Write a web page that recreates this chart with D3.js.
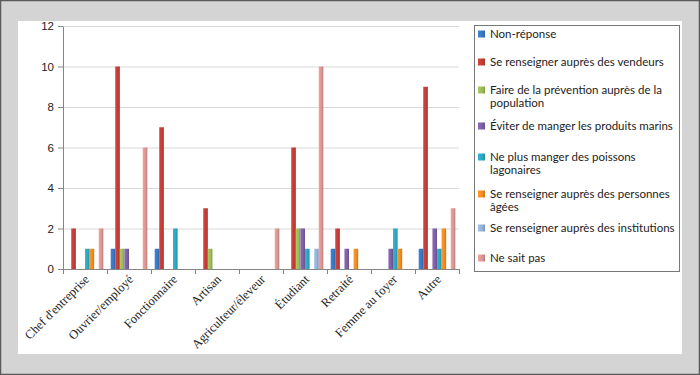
<!DOCTYPE html>
<html>
<head>
<meta charset="utf-8">
<script src="https://cdn.jsdelivr.net/npm/d3@7"></script>
<style>
  body { margin: 0; background: #fff; }
  svg { display: block; }
</style>
</head>
<body>
<script>
const categories = ["Chef d'entreprise", "Ouvrier/employé", "Fonctionnaire", "Artisan",
  "Agriculteur/éleveur", "Étudiant", "Retraité", "Femme au foyer", "Autre"];

const seriesNames = [
  "Non-réponse",
  "Se renseigner auprès des vendeurs",
  "Faire de la prévention auprès de la population",
  "Éviter de manger les produits marins",
  "Ne plus manger des poissons lagonaires",
  "Se renseigner auprès des personnes âgées",
  "Se renseigner auprès des institutions",
  "Ne sait pas"
];

// legend lines as wrapped in the original
const legendLines = [
  ["Non-réponse"],
  ["Se renseigner auprès des vendeurs"],
  ["Faire de la prévention auprès de la", "population"],
  ["Éviter de manger les produits marins"],
  ["Ne plus manger des poissons", "lagonaires"],
  ["Se renseigner auprès des personnes", "âgées"],
  ["Se renseigner auprès des institutions"],
  ["Ne sait pas"]
];

const seriesColors = ["#3b78c2", "#c43d36", "#9bbb59", "#7d60a6", "#2ba8c2", "#f38b22", "#93b1d8", "#dc9592"];

// values per series, in category order
const nonReponse   = [0, 1, 1, 0, 0, 0, 1, 0, 1];
const vendeurs     = [2, 10, 7, 3, 0, 6, 2, 0, 9];
const prevention   = [0, 1, 0, 1, 0, 2, 0, 0, 0];
const eviter       = [0, 1, 0, 0, 0, 2, 1, 1, 2];
const nePlus       = [1, 0, 2, 0, 0, 1, 0, 2, 1];
const agees        = [1, 0, 0, 0, 0, 0, 1, 1, 2];
const institutions = [0, 0, 0, 0, 0, 1, 0, 0, 0];
const neSaitPas    = [2, 6, 0, 0, 2, 10, 0, 0, 3];

const seriesValues = [nonReponse, vendeurs, prevention, eviter, nePlus, agees, institutions, neSaitPas];

const yTicks = [0, 2, 4, 6, 8, 10, 12];

const W = 700, H = 375;
const plot = { left: 63, right: 459, top: 26, bottom: 269 };

const svg = d3.select("body").append("svg")
  .attr("width", W)
  .attr("height", H);

// frame
svg.append("rect")
  .attr("x", 0.5).attr("y", 0.5)
  .attr("width", W - 1).attr("height", H - 1)
  .attr("fill", "#d4d4d4")
  .attr("stroke", "#5a5a5a")
  .attr("stroke-width", 1.5);

svg.append("rect")
  .attr("x", 18).attr("y", 21)
  .attr("width", 664).attr("height", 333)
  .attr("fill", "#fff");

// gradients for bars
const defs = svg.append("defs");
seriesColors.forEach((c, i) => {
  const g = defs.append("linearGradient")
    .attr("id", "grad" + i)
    .attr("x1", "0").attr("x2", "1").attr("y1", "0").attr("y2", "0");
  g.append("stop").attr("offset", "0%").attr("stop-color", d3.color(c).brighter(0.25));
  g.append("stop").attr("offset", "60%").attr("stop-color", c);
  g.append("stop").attr("offset", "100%").attr("stop-color", d3.color(c).darker(0.5));
});

const x0 = d3.scaleBand()
  .domain(categories)
  .range([plot.left, plot.right])
  .padding(0);

const x1 = d3.scaleBand()
  .domain(d3.range(seriesNames.length))
  .range([0, x0.bandwidth()])
  .paddingInner(0)
  .paddingOuter(0.8);

const y = d3.scaleLinear()
  .domain([0, 12])
  .range([plot.bottom, plot.top]);

// grid
svg.append("g")
  .selectAll("line")
  .data(yTicks.filter(d => d > 0))
  .join("line")
  .attr("x1", plot.left).attr("x2", plot.right)
  .attr("y1", d => y(d) + 0.5).attr("y2", d => y(d) + 0.5)
  .attr("stroke", "#d9d9d9")
  .attr("stroke-width", 1.2);

// bars
const rows = [];
categories.forEach((c, ci) => {
  seriesValues.forEach((vals, si) => {
    if (vals[ci] > 0) rows.push({ cat: c, s: si, v: vals[ci] });
  });
});

svg.append("g")
  .selectAll("rect")
  .data(rows)
  .join("rect")
  .attr("x", d => x0(d.cat) + x1(d.s))
  .attr("y", d => y(d.v))
  .attr("width", x1.bandwidth())
  .attr("height", d => y(0) - y(d.v))
  .attr("fill", d => `url(#grad${d.s})`);

// y axis
const yAxis = svg.append("g")
  .attr("transform", `translate(${plot.left},0)`)
  .call(d3.axisLeft(y).tickValues(yTicks).tickSize(5).tickPadding(4).tickSizeOuter(0));
yAxis.select(".domain").attr("stroke", "#868686");
yAxis.selectAll(".tick line").attr("stroke", "#868686");
yAxis.selectAll("text")
  .attr("font-family", "Liberation Sans, Arial, sans-serif")
  .attr("font-size", "11.5px")
  .attr("fill", "#222");

// x axis
const xAxis = svg.append("g")
  .attr("transform", `translate(0,${plot.bottom})`);
xAxis.append("line")
  .attr("x1", plot.left).attr("x2", plot.right)
  .attr("y1", 0.5).attr("y2", 0.5)
  .attr("stroke", "#868686");
xAxis.selectAll(".tk")
  .data(d3.range(categories.length + 1))
  .join("line")
  .attr("class", "tk")
  .attr("x1", i => plot.left + i * x0.step() + 0.5)
  .attr("x2", i => plot.left + i * x0.step() + 0.5)
  .attr("y1", 0).attr("y2", 5)
  .attr("stroke", "#868686");

xAxis.selectAll(".lbl")
  .data(categories)
  .join("text")
  .attr("class", "lbl")
  .attr("transform", d => `translate(${x0(d) + x0.bandwidth() / 2 + 5},${11}) rotate(-45)`)
  .attr("text-anchor", "end")
  .attr("font-family", "Liberation Serif, serif")
  .attr("font-size", "12.5px")
  .attr("fill", "#222")
  .text(d => d);

// legend
const legend = svg.append("g");
legend.append("rect")
  .attr("x", 474.5).attr("y", 25.5)
  .attr("width", 205).attr("height", 246)
  .attr("fill", "#fff")
  .attr("stroke", "#777")
  .attr("stroke-width", 1);

const legendY = [34, 62, 90, 126, 157, 194, 228, 258];
const item = legend.selectAll(".item")
  .data(seriesNames)
  .join("g")
  .attr("class", "item")
  .attr("transform", (d, i) => `translate(478,${legendY[i]})`);

item.append("rect")
  .attr("x", 0).attr("y", -3.5)
  .attr("width", 7).attr("height", 7)
  .attr("fill", (d, i) => `url(#grad${i})`);

item.append("text")
  .attr("x", 12)
  .attr("font-family", "Lato, sans-serif")
  .attr("font-size", "11.5px")
  .attr("fill", "#222")
  .selectAll("tspan")
  .data((d, i) => legendLines[i])
  .join("tspan")
  .attr("x", 12)
  .attr("dy", (d, j) => j === 0 ? "0.35em" : "1.15em")
  .text(d => d);
</script>
</body>
</html>
